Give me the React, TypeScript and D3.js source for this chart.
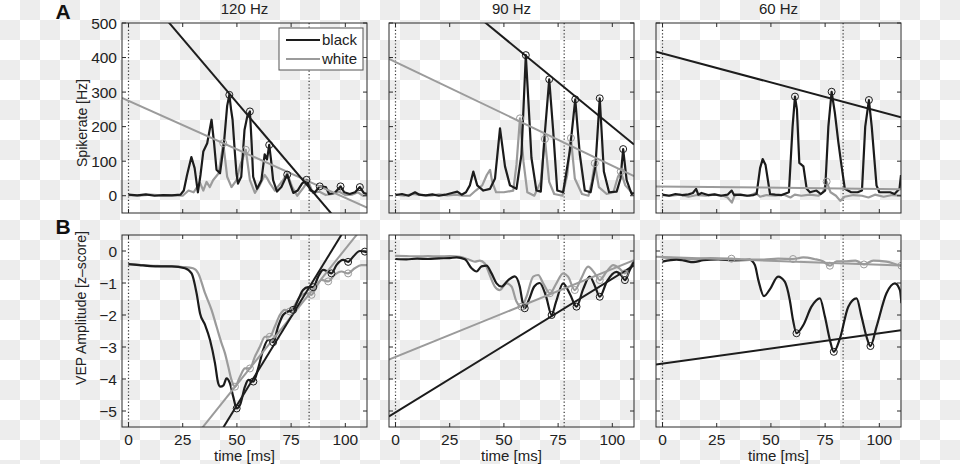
import React, { useEffect, useRef } from 'react';
import * as d3 from 'd3';

type Pt = [number, number];

// ---- axes / labels ----
const titles = ['120 Hz', '90 Hz', '60 Hz'];
const timeTicks = [0, 25, 50, 75, 100];
const rateTicks = [0, 100, 200, 300, 400, 500];
const vepTicks = [-5, -4, -3, -2, -1, 0];
const cycleMarks = [83.3, 77.8, 83.3]; // dotted line per column
const legendLabels = ['black', 'white'];

// ---- A: spike rate [Hz] ----
const rate120Black: Pt[] = [[0,3],[4,1],[8,4],[12,0],[16,2],[20,1],[24,3],[25.5,15],[27,60],[29,112],[30.5,80],[32,10],[33.2,60],[34.5,128],[36.3,152],[38.3,220],[39.5,150],[40.6,75],[42.2,65],[44,150],[45.5,260],[46.5,292],[47.3,250],[48,220],[49,130],[49.8,65],[50.5,35],[52,55],[53.5,190],[54.8,230],[56,244],[56.8,150],[57.5,55],[59.3,20],[61.3,45],[62.8,120],[63.9,105],[64.9,147],[65.8,100],[66.7,45],[68.5,12],[70.5,25],[73.2,61],[74.5,35],[76,8],[78,15],[80,35],[82.1,46],[84,15],[86,10],[88.2,27],[91,25],[92.5,5],[95,8],[97.8,27],[99.5,10],[102,5],[104.5,10],[106.7,25],[108.5,8],[110,5]];
const rate120White: Pt[] = [[0,2],[5,0],[10,3],[15,1],[20,2],[25,0],[27.7,15],[30,10],[33,37],[34.5,15],[36,40],[37.5,25],[39,45],[41.6,65],[43.7,152],[45.5,55],[47.5,25],[49.8,45],[51.6,90],[54.1,133],[56,45],[58.3,8],[60.5,30],[62.8,60],[64,50],[65.3,35],[67.5,15],[71.3,45],[73.2,65],[75.5,25],[77.8,0],[80.9,25],[82.7,45],[85,8],[87.9,12],[91,2],[94,5],[97,12],[100,2],[103,3],[105.8,10],[108,0],[110,2]];
const rate90Black: Pt[] = [[0,2],[3,5],[6,0],[9,10],[11,3],[14,1],[17,4],[20,0],[23,3],[26,8],[28.5,12],[30.5,3],[32.5,10],[34.3,30],[35.9,70],[37.7,30],[40.5,15],[43.6,20],[45.9,50],[48.2,195],[50.5,85],[52.8,30],[55.8,20],[58.1,120],[60.1,407],[61.5,250],[62.7,110],[65,15],[67,12],[68.6,160],[70.9,337],[72.7,190],[74.6,15],[77.3,10],[80.4,130],[82.9,279],[85,120],[87.3,15],[90,10],[92.2,85],[94.2,282],[96.1,70],[98.5,10],[102,12],[103.8,50],[105,135],[106.6,45],[108.9,5],[110,8]];
const rate90White: Pt[] = [[0,3],[4,0],[8,5],[12,2],[16,0],[20,4],[24,1],[28,3],[31,0],[34.3,0],[37,15],[40,30],[42.1,60],[43.6,75],[44.6,40],[46.4,10],[50,10],[54.3,15],[55.8,90],[57.4,224],[59,100],[60.8,10],[64,0],[67,40],[68.9,164],[70.9,40],[73.2,5],[77,0],[79.2,60],[80.9,167],[82.7,50],[86,5],[89,0],[90.5,40],[91.9,94],[93.8,25],[97.4,5],[100.5,10],[102.6,55],[103.9,70],[106,30],[109.6,5]];
const rate60Black: Pt[] = [[0,3],[3,0],[6,5],[9,2],[12,4],[14,8],[15.5,20],[16.5,3],[18,8],[21,2],[24,4],[27,0],[30,3],[31.9,15],[33,2],[36,3],[39,0],[42,2],[43.4,5],[45,80],[46.2,106],[47.5,90],[49.6,5],[52,3],[55,2],[58.3,10],[60,200],[61.1,287],[62,250],[63.1,95],[65,85],[66.5,20],[68,10],[71,15],[73,5],[75,15],[76.5,200],[78,301],[79.5,240],[81.1,155],[82.6,85],[84.1,20],[87,10],[90,10],[92,15],[93.5,200],[95.2,277],[96.5,200],[98.7,30],[100,10],[105,10],[107,5],[109.3,20],[110,60]];
const rate60White: Pt[] = [[0,2],[4,0],[8,3],[12,-3],[16,2],[20,0],[24,3],[28,0],[30,-5],[32,-20],[33.5,5],[36,2],[40,0],[43,8],[45,-3],[48,2],[52,0],[56,3],[59,-5],[61,3],[64,0],[68,3],[72,0],[74,10],[75.7,41],[77.5,10],[80,0],[82,-15],[84,-3],[88,2],[92,0],[95,-5],[98,3],[102,-3],[106,2],[110,0]];

const rate120BlackFit: Pt[] = [[-3,661],[110,-173]];
const rate120WhiteFit: Pt[] = [[-3,283],[110,-34]];
const rate90BlackFit: Pt[] = [[-3,730],[110,148]];
const rate90WhiteFit: Pt[] = [[-3,396],[110,57]];
const rate60BlackFit: Pt[] = [[-3,417],[110,227]];
const rate60WhiteFit: Pt[] = [[-3,27],[110,19]];

const rate120BlackPeaks: Pt[] = [[46.5,292],[56,244],[64.9,147],[73.2,61],[82.1,46],[88.2,27],[97.8,27],[106.7,25]];
const rate120WhitePeaks: Pt[] = [[43.7,152],[54.1,133]];
const rate90BlackPeaks: Pt[] = [[60.1,407],[70.9,337],[82.9,279],[94.2,282],[105,135]];
const rate90WhitePeaks: Pt[] = [[57.4,224],[68.9,164],[80.9,167],[91.9,94],[103.9,70]];
const rate60BlackPeaks: Pt[] = [[61.1,287],[78,301],[95.2,277]];
const rate60WhitePeaks: Pt[] = [[75.7,41]];

// ---- B: VEP amplitude [z-score] ----
const vep120Black: Pt[] = [[0,-0.41],[5,-0.44],[10,-0.47],[15,-0.48],[20,-0.48],[26,-0.54],[29.1,-0.7],[31.4,-1.32],[33,-1.95],[35.3,-2.31],[37.6,-2.78],[39.9,-3.51],[41.4,-4.14],[42.4,-4.24],[43.8,-4.2],[45.2,-3.98],[46.8,-4.14],[48.3,-4.55],[49.9,-4.92],[51.5,-4.8],[53.7,-4.24],[55.3,-4.03],[57.6,-4.08],[59.8,-3.67],[62.1,-3.09],[64.4,-2.78],[66.7,-2.85],[69,-2.36],[71.3,-2.0],[73.6,-1.89],[75.9,-1.84],[78.2,-1.53],[80.5,-1.22],[82.8,-1.13],[85.2,-1.13],[87.5,-0.8],[89.8,-0.59],[92.1,-0.65],[93.6,-0.7],[95.9,-0.44],[99,-0.28],[101.3,-0.34],[103.6,-0.18],[106.7,0.0],[109,-0.02],[110,-0.05]];
const vep120White: Pt[] = [[0,-0.41],[5,-0.43],[10,-0.46],[15,-0.47],[20,-0.48],[25,-0.5],[29.8,-0.54],[32.2,-0.7],[35.3,-1.32],[38.3,-1.84],[40.6,-2.36],[42.9,-2.88],[44.5,-3.2],[46,-3.61],[47.5,-4.03],[49.1,-4.24],[51.4,-3.93],[53.7,-3.67],[56,-3.67],[58.3,-3.3],[60.6,-2.99],[62.9,-2.68],[65.2,-2.68],[67.5,-2.36],[69.8,-2.0],[72.1,-1.84],[74.4,-1.89],[76.7,-1.69],[79,-1.43],[82,-1.32],[84.4,-1.37],[86.7,-1.11],[89,-0.9],[92.1,-0.95],[95.1,-0.74],[98.2,-0.64],[101.3,-0.7],[104.3,-0.54],[107.4,-0.44],[110,-0.44]];
const vep90Black: Pt[] = [[0,-0.25],[5,-0.26],[10,-0.24],[15,-0.25],[20,-0.23],[25,-0.22],[28.2,-0.2],[32,-0.26],[35.1,-0.54],[37.4,-0.64],[39.7,-0.48],[42,-0.46],[44.3,-0.7],[46.6,-1.01],[48.9,-1.11],[52,-0.91],[55,-0.79],[57.3,-1.11],[58.6,-1.6],[59.6,-1.79],[61.5,-1.53],[64,-1.11],[66.5,-1.0],[69.5,-1.43],[72,-2.0],[74,-1.6],[77.3,-1.01],[80.5,-1.35],[83.5,-1.74],[86.5,-1.2],[89.6,-0.8],[92,-1.1],[94.2,-1.43],[97.5,-0.95],[101.9,-0.65],[104,-0.75],[105.8,-0.91],[108,-0.6],[110,-0.33]];
const vep90White: Pt[] = [[0,-0.15],[5,-0.16],[10,-0.17],[15,-0.16],[20,-0.17],[25,-0.16],[29.7,-0.18],[33.5,-0.26],[36.6,-0.33],[38.9,-0.3],[41.2,-0.39],[43.5,-0.76],[45.8,-1.11],[48.1,-1.22],[51.2,-1.01],[53.5,-1.11],[55.8,-1.58],[58.1,-1.74],[60.4,-1.43],[63.5,-0.8],[65.8,-0.75],[68.1,-1.01],[71.2,-1.32],[74.2,-1.01],[77.3,-0.7],[79.6,-0.8],[82.7,-1.22],[85.7,-0.85],[88.8,-0.49],[91.9,-0.7],[94.2,-0.91],[97.3,-0.65],[100.4,-0.44],[103.4,-0.55],[105.8,-0.7],[108.8,-0.44],[110,-0.3]];
const vep60Black: Pt[] = [[0,-0.33],[6.5,-0.27],[10,-0.3],[14.2,-0.35],[18.8,-0.29],[25.7,-0.26],[32.6,-0.29],[40.3,-0.28],[42.6,-0.44],[44.2,-0.91],[46.8,-1.41],[49.5,-1.2],[53.3,-0.8],[56.4,-0.96],[58.7,-1.53],[60.2,-2.16],[61.8,-2.57],[64.9,-2.32],[68.7,-1.74],[72.6,-1.48],[74.9,-2.05],[77.2,-2.78],[79,-3.15],[81.8,-2.74],[85.7,-1.74],[89.5,-1.48],[91.8,-2.05],[94.1,-2.68],[95.9,-2.97],[98.7,-2.37],[103.3,-1.32],[107.2,-1.01],[109.5,-1.22],[110.2,-1.63]];
const vep60White: Pt[] = [[0,-0.2],[7,-0.23],[14.2,-0.26],[22,-0.22],[31.8,-0.24],[40,-0.27],[46.8,-0.27],[53.3,-0.24],[60.2,-0.25],[64.9,-0.2],[70,-0.25],[74,-0.32],[77.2,-0.46],[80.3,-0.32],[84.9,-0.32],[89,-0.3],[92.9,-0.42],[97.2,-0.3],[103.3,-0.33],[107.9,-0.42],[110.2,-0.46]];

const vep120BlackFit: Pt[] = [[-3,-10.68],[110,1.81]];
const vep120WhiteFit: Pt[] = [[-3,-8.66],[110,0.91]];
const vep90BlackFit: Pt[] = [[-3,-5.17],[110,-0.45]];
const vep90WhiteFit: Pt[] = [[-3,-3.39],[110,-0.29]];
const vep60BlackFit: Pt[] = [[-3,-3.55],[110,-2.48]];
const vep60WhiteFit: Pt[] = [[-3,-0.18],[110,-0.45]];

const vep120BlackMins: Pt[] = [[49.9,-4.92],[57.6,-4.08],[66.7,-2.85],[75.9,-1.84],[85.2,-1.13],[93.6,-0.7],[101.3,-0.34],[109,-0.02]];
const vep120WhiteMins: Pt[] = [[49.1,-4.24],[56,-3.67],[65.2,-2.68],[74.4,-1.89],[84.4,-1.37],[92.1,-0.95],[101.3,-0.7]];
const vep90BlackMins: Pt[] = [[59.6,-1.79],[72,-2.0],[83.5,-1.74],[94.2,-1.43],[105.8,-0.91]];
const vep90WhiteMins: Pt[] = [[58.1,-1.74],[71.2,-1.32],[82.7,-1.22],[94.2,-0.91],[105.8,-0.7]];
const vep60BlackMins: Pt[] = [[61.8,-2.57],[79,-3.15],[95.9,-2.97]];
const vep60WhiteMins: Pt[] = [[31.8,-0.24],[60.2,-0.25],[77.2,-0.46],[92.9,-0.42],[110.2,-0.46]];

const App: React.FC = () => {
  const svgRef = useRef<SVGSVGElement>(null);

  useEffect(() => {
    if (!svgRef.current) return;
    const svg = d3.select(svgRef.current);
    svg.selectAll('*').remove();

    const width = 960;
    const height = 464;
    const font = '"Liberation Sans", Arial, sans-serif';
    const blackColor = '#1c1c1c';
    const whiteColor = '#9b9b9b';
    const frameColor = '#2a2a2a';
    const textColor = '#222';
    const tickFont = 15.5;
    const labelFont = 15;
    const panelW = 245;
    const colLeft = [122, 389, 656];
    const rows = [
      { top: 23, bottom: 213, domain: [-50, 500], ticks: rateTicks },
      { top: 235, bottom: 427, domain: [-5.5, 0.5], ticks: vepTicks },
    ];

    svg.attr('width', width).attr('height', height).style('font-family', font);

    // checkerboard background (as in the source image)
    const defs = svg.append('defs');
    const pat = defs.append('pattern')
      .attr('id', 'checker')
      .attr('width', 40).attr('height', 40)
      .attr('patternUnits', 'userSpaceOnUse');
    pat.append('rect').attr('width', 40).attr('height', 40).attr('fill', '#ffffff');
    pat.append('rect').attr('x', 20).attr('y', 0).attr('width', 20).attr('height', 20).attr('fill', '#ededed');
    pat.append('rect').attr('x', 0).attr('y', 20).attr('width', 20).attr('height', 20).attr('fill', '#ededed');
    svg.append('rect').attr('width', width).attr('height', height).attr('fill', 'url(#checker)');

    const panels = [
      { row: 0, col: 0, black: rate120Black, white: rate120White, bFit: rate120BlackFit, wFit: rate120WhiteFit, bMark: rate120BlackPeaks, wMark: rate120WhitePeaks },
      { row: 0, col: 1, black: rate90Black, white: rate90White, bFit: rate90BlackFit, wFit: rate90WhiteFit, bMark: rate90BlackPeaks, wMark: rate90WhitePeaks },
      { row: 0, col: 2, black: rate60Black, white: rate60White, bFit: rate60BlackFit, wFit: rate60WhiteFit, bMark: rate60BlackPeaks, wMark: rate60WhitePeaks },
      { row: 1, col: 0, black: vep120Black, white: vep120White, bFit: vep120BlackFit, wFit: vep120WhiteFit, bMark: vep120BlackMins, wMark: vep120WhiteMins },
      { row: 1, col: 1, black: vep90Black, white: vep90White, bFit: vep90BlackFit, wFit: vep90WhiteFit, bMark: vep90BlackMins, wMark: vep90WhiteMins },
      { row: 1, col: 2, black: vep60Black, white: vep60White, bFit: vep60BlackFit, wFit: vep60WhiteFit, bMark: vep60BlackMins, wMark: vep60WhiteMins },
    ];

    panels.forEach(p => {
      const r = rows[p.row];
      const left = colLeft[p.col];
      const x = d3.scaleLinear().domain([-3, 110]).range([left, left + panelW]);
      const y = d3.scaleLinear().domain(r.domain).range([r.bottom, r.top]);
      const clipId = `clip-${p.row}-${p.col}`;
      defs.append('clipPath').attr('id', clipId)
        .append('rect')
        .attr('x', left).attr('y', r.top)
        .attr('width', panelW).attr('height', r.bottom - r.top);

      const g = svg.append('g');
      const plot = g.append('g').attr('clip-path', `url(#${clipId})`);

      // dotted markers at t=0 and end of stimulation cycle
      [0, cycleMarks[p.col]].forEach(t => {
        plot.append('line')
          .attr('x1', x(t)).attr('x2', x(t))
          .attr('y1', r.top).attr('y2', r.bottom)
          .attr('stroke', '#333').attr('stroke-width', 1.2)
          .attr('stroke-dasharray', '1.2,2.2');
      });

      const curve = p.row === 0 ? d3.curveLinear : d3.curveMonotoneX;
      const line = d3.line<Pt>().x(d => x(d[0])).y(d => y(d[1])).curve(curve);
      const straight = d3.line<Pt>().x(d => x(d[0])).y(d => y(d[1]));

      plot.append('path').attr('d', line(p.white))
        .attr('fill', 'none').attr('stroke', whiteColor).attr('stroke-width', 2.2)
        .attr('stroke-linejoin', 'round');
      plot.append('path').attr('d', line(p.black))
        .attr('fill', 'none').attr('stroke', blackColor).attr('stroke-width', 2.2)
        .attr('stroke-linejoin', 'round');
      plot.append('path').attr('d', straight(p.wFit))
        .attr('fill', 'none').attr('stroke', whiteColor).attr('stroke-width', 2);
      plot.append('path').attr('d', straight(p.bFit))
        .attr('fill', 'none').attr('stroke', blackColor).attr('stroke-width', 2);

      p.wMark.forEach(d => {
        plot.append('circle').attr('cx', x(d[0])).attr('cy', y(d[1])).attr('r', 3.5)
          .attr('fill', 'none').attr('stroke', whiteColor).attr('stroke-width', 1);
      });
      p.bMark.forEach(d => {
        plot.append('circle').attr('cx', x(d[0])).attr('cy', y(d[1])).attr('r', 3.5)
          .attr('fill', 'none').attr('stroke', blackColor).attr('stroke-width', 1);
      });

      // frame
      g.append('rect')
        .attr('x', left).attr('y', r.top)
        .attr('width', panelW).attr('height', r.bottom - r.top)
        .attr('fill', 'none').attr('stroke', frameColor).attr('stroke-width', 1);

      // inward ticks on all four sides
      timeTicks.forEach(t => {
        g.append('line').attr('x1', x(t)).attr('x2', x(t)).attr('y1', r.bottom).attr('y2', r.bottom - 4)
          .attr('stroke', frameColor);
        g.append('line').attr('x1', x(t)).attr('x2', x(t)).attr('y1', r.top).attr('y2', r.top + 4)
          .attr('stroke', frameColor);
      });
      r.ticks.forEach(v => {
        g.append('line').attr('x1', left).attr('x2', left + 4).attr('y1', y(v)).attr('y2', y(v))
          .attr('stroke', frameColor);
        g.append('line').attr('x1', left + panelW).attr('x2', left + panelW - 4).attr('y1', y(v)).attr('y2', y(v))
          .attr('stroke', frameColor);
      });

      if (p.col === 0) {
        r.ticks.forEach(v => {
          g.append('text')
            .attr('x', left - 5).attr('y', y(v) + 5.5)
            .attr('text-anchor', 'end').attr('font-size', tickFont).attr('fill', textColor)
            .text(v < 0 ? `\u2212${Math.abs(v)}` : `${v}`);
        });
      }
      if (p.row === 1) {
        timeTicks.forEach(t => {
          g.append('text')
            .attr('x', x(t)).attr('y', r.bottom + 18)
            .attr('text-anchor', 'middle').attr('font-size', tickFont).attr('fill', textColor)
            .text(`${t}`);
        });
        g.append('text')
          .attr('x', left + panelW / 2).attr('y', r.bottom + 34)
          .attr('text-anchor', 'middle').attr('font-size', labelFont).attr('fill', textColor)
          .text('time [ms]');
      } else {
        g.append('text')
          .attr('x', left + panelW / 2).attr('y', 14)
          .attr('text-anchor', 'middle').attr('font-size', labelFont).attr('fill', textColor)
          .text(titles[p.col]);
      }
    });

    // legend in the first panel
    const legend = svg.append('g');
    legend.append('rect')
      .attr('x', 279).attr('y', 28).attr('width', 84).attr('height', 42)
      .attr('fill', '#fff').attr('stroke', '#555').attr('stroke-width', 1);
    legendLabels.forEach((lab, i) => {
      const ly = 40 + i * 19;
      legend.append('line')
        .attr('x1', 286).attr('x2', 320).attr('y1', ly).attr('y2', ly)
        .attr('stroke', i === 0 ? blackColor : whiteColor).attr('stroke-width', 2.2);
      legend.append('text')
        .attr('x', 322).attr('y', ly + 5)
        .attr('font-size', labelFont).attr('fill', textColor)
        .text(lab);
    });

    // panel letters and y labels
    svg.append('text').attr('x', 63).attr('y', 19).attr('text-anchor', 'middle')
      .attr('font-size', 21).attr('font-weight', 'bold').attr('fill', '#111').text('A');
    svg.append('text').attr('x', 63).attr('y', 234).attr('text-anchor', 'middle')
      .attr('font-size', 21).attr('font-weight', 'bold').attr('fill', '#111').text('B');
    svg.append('text')
      .attr('transform', 'translate(87,123) rotate(-90)')
      .attr('text-anchor', 'middle').attr('font-size', 14).attr('fill', textColor)
      .text('Spikerate [Hz]');
    svg.append('text')
      .attr('transform', 'translate(86,308) rotate(-90)')
      .attr('text-anchor', 'middle').attr('font-size', 14).attr('fill', textColor)
      .text('VEP Amplitude [z\u2013score]');
  }, []);

  return (
    <div style={{ position: 'absolute', left: 0, top: 0 }}>
      <svg ref={svgRef}></svg>
    </div>
  );
};

export default App;
